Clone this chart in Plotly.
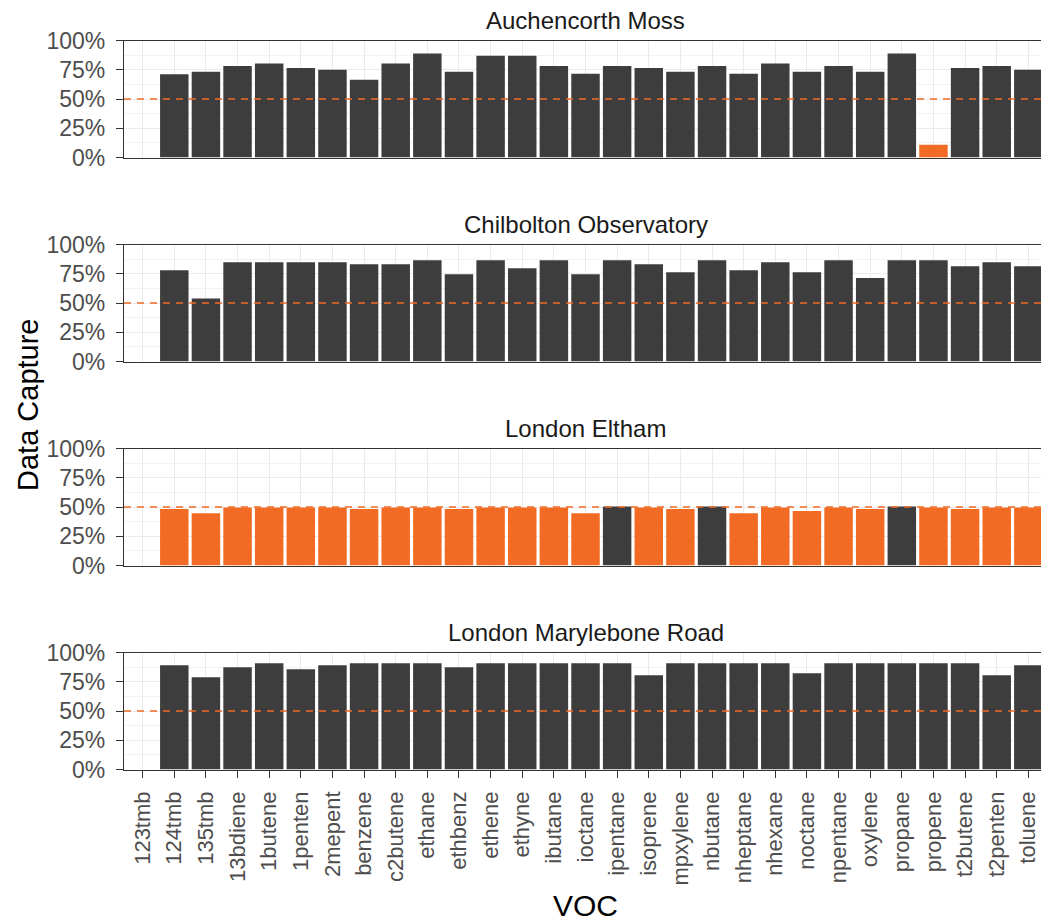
import plotly.graph_objects as go

# Data capture fraction per VOC species at each monitoring site
voc = ["123tmb", "124tmb", "135tmb", "13bdiene", "1butene", "1penten", "2mepent",
       "benzene", "c2butene", "ethane", "ethbenz", "ethene", "ethyne", "ibutane",
       "ioctane", "ipentane", "isoprene", "mpxylene", "nbutane", "nheptane", "nhexane",
       "noctane", "npentane", "oxylene", "propane", "propene", "t2butene", "t2penten",
       "toluene"]

sites = ["Auchencorth Moss", "Chilbolton Observatory", "London Eltham", "London Marylebone Road"]

auchencorth = [None, 0.712, 0.732, 0.783, 0.803, 0.766, 0.749, 0.664, 0.803, 0.889,
               0.732, 0.869, 0.869, 0.783, 0.715, 0.783, 0.766, 0.732, 0.783, 0.715,
               0.803, 0.732, 0.783, 0.732, 0.889, 0.108, 0.766, 0.783, 0.749]
chilbolton = [None, 0.780, 0.538, 0.848, 0.848, 0.848, 0.848, 0.831, 0.831, 0.865,
              0.746, 0.865, 0.797, 0.865, 0.746, 0.865, 0.831, 0.763, 0.865, 0.780,
              0.848, 0.763, 0.865, 0.713, 0.865, 0.865, 0.814, 0.848, 0.814]
eltham = [None, 0.483, 0.446, 0.495, 0.495, 0.495, 0.495, 0.483, 0.495, 0.495,
          0.483, 0.495, 0.495, 0.495, 0.446, 0.505, 0.495, 0.483, 0.505, 0.446,
          0.495, 0.466, 0.495, 0.483, 0.505, 0.495, 0.483, 0.495, 0.495]
marylebone = [None, 0.891, 0.788, 0.874, 0.908, 0.857, 0.891, 0.908, 0.908, 0.908,
              0.874, 0.908, 0.908, 0.908, 0.908, 0.908, 0.805, 0.908, 0.908, 0.908,
              0.908, 0.822, 0.908, 0.908, 0.908, 0.908, 0.908, 0.805, 0.891]

site_values = [auchencorth, chilbolton, eltham, marylebone]

threshold = 0.5
y_tick_vals = [0, 0.25, 0.5, 0.75, 1.0]
y_tick_text = ["0%", "25%", "50%", "75%", "100%"]

# styling
W, H = 1041, 922
LEFT = 124
OK_COLOR = "#3d3d3d"
LOW_COLOR = "#f26b24"
GRID = "#ebebeb"
AXIS = "#333333"
FONT = "Liberation Sans, Arial, sans-serif"
Y_TICK_FONT = dict(family=FONT, size=23, color="#4d4d4d")
X_TICK_FONT = dict(family=FONT, size=22, color="#4d4d4d")

panel_top0, panel_step, panel_h = 40.5, 204, 117

fig = go.Figure()
layout = dict(
    width=W, height=H,
    margin=dict(l=LEFT, r=0, t=0, b=0, autoexpand=False),
    paper_bgcolor="white", plot_bgcolor="white",
    showlegend=False,
    font=dict(family=FONT),
    bargap=0.1,
)

annotations = []
shapes = []
x_center = (585.5 - LEFT) / (W - LEFT)

for i, (site, vals) in enumerate(zip(sites, site_values)):
    n = i + 1
    xa = "x" if n == 1 else f"x{n}"
    ya = "y" if n == 1 else f"y{n}"
    colors = [LOW_COLOR if (v is not None and v < threshold) else OK_COLOR for v in vals]
    fig.add_trace(go.Bar(
        x=voc, y=vals, xaxis=xa, yaxis=ya,
        marker=dict(color=colors, line=dict(width=0)),
        width=0.9,
    ))

    top = panel_top0 + panel_step * i
    bottom = top + panel_h
    dom = [1 - bottom / H, 1 - top / H]
    last = (n == len(sites))

    layout["xaxis" if n == 1 else f"xaxis{n}"] = dict(
        type="category", categoryorder="array", categoryarray=voc,
        range=[-0.59, 28.40], domain=[0, 1],
        anchor=ya, matches=None if n == 1 else "x",
        automargin=False,
        showgrid=True, gridcolor=GRID, gridwidth=1.1,
        showline=True, linecolor=AXIS, linewidth=1.3, mirror=True,
        ticks="outside" if last else "", ticklen=7, tickcolor=AXIS, tickwidth=1.1,
        showticklabels=last, tickangle=-90, tickfont=X_TICK_FONT,
        ticklabelstandoff=5,
        zeroline=False,
    )
    layout["yaxis" if n == 1 else f"yaxis{n}"] = dict(
        domain=dom, range=[0, 1], anchor=xa,
        automargin=False,
        tickvals=y_tick_vals, ticktext=y_tick_text,
        showgrid=True, gridcolor=GRID, gridwidth=1.1,
        minor=dict(dtick=0.125, tick0=0, showgrid=True, gridcolor="#f2f2f2", gridwidth=0.6),
        showline=True, linecolor=AXIS, linewidth=1.3,
        ticks="outside", ticklen=7, tickcolor=AXIS, tickwidth=1.1,
        ticklabelstandoff=6,
        tickfont=Y_TICK_FONT, zeroline=False,
    )

    # 50% data capture threshold
    shapes.append(dict(
        type="line", xref=f"{xa} domain", yref=ya,
        x0=0, x1=1, y0=threshold, y1=threshold,
        line=dict(color=LOW_COLOR, width=1.3, dash="7px,6px"),
        layer="above",
    ))

    annotations.append(dict(
        text=site, xref="paper", yref="paper",
        x=x_center, y=1 - (top - 20) / H,
        xanchor="center", yanchor="middle", showarrow=False,
        font=dict(family=FONT, size=24, color="#1a1a1a"),
    ))

annotations.append(dict(
    text="VOC", xref="paper", yref="paper",
    x=x_center, y=1 - 905 / H, xanchor="center", yanchor="middle",
    showarrow=False, font=dict(family=FONT, size=30, color="black"),
))
annotations.append(dict(
    text="Data Capture", xref="paper", yref="paper",
    x=(28 - LEFT) / (W - LEFT), y=1 - 405 / H, xanchor="center", yanchor="middle",
    textangle=-90, showarrow=False, font=dict(family=FONT, size=29, color="black"),
))

layout["annotations"] = annotations
layout["shapes"] = shapes
fig.update_layout(**layout)

fig.write_html("out.html")
